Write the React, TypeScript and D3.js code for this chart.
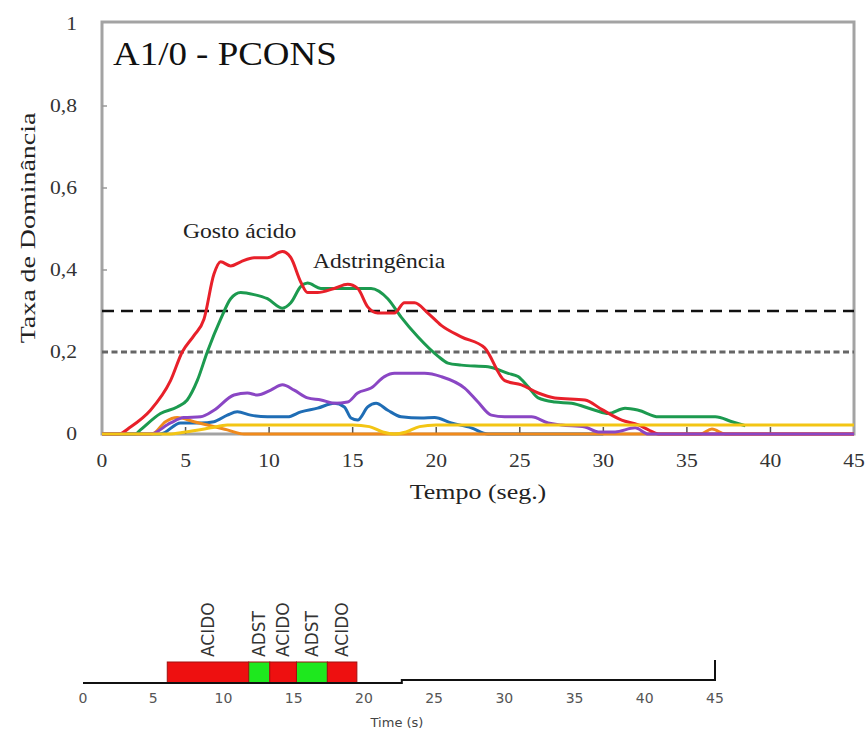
import * as d3 from 'd3'

// time (s) / dominance rate
const acidoT = [0, 1, 1.7, 2.9, 4.1, 4.8, 5.5, 6.1, 6.7, 7.1, 7.7, 8.3, 9.1, 9.9, 10.8, 11.3, 11.9, 12.3, 12.9, 13.9, 14.7, 15.3, 15.9, 16.5, 17.5, 18.1, 18.7, 19.5, 20.3, 21.5, 22.9, 24.1, 25.1, 26.1, 27.1, 28.9, 29.9, 31.1, 32.1, 32.7, 33.3, 45]
const acidoV = [0, 0, 0.017, 0.058, 0.13, 0.2, 0.24, 0.28, 0.39, 0.42, 0.41, 0.42, 0.43, 0.43, 0.445, 0.43, 0.37, 0.345, 0.345, 0.355, 0.365, 0.355, 0.31, 0.295, 0.295, 0.32, 0.32, 0.295, 0.265, 0.237, 0.21, 0.13, 0.12, 0.1, 0.088, 0.083, 0.06, 0.034, 0.022, 0.01, 0, 0]

const adstT = [0, 2, 2.3, 3.5, 4.5, 5.1, 5.7, 6.3, 7.1, 7.7, 8.3, 9.1, 9.9, 10.8, 11.3, 11.9, 12.3, 13.1, 14.7, 16.1, 17.1, 17.9, 18.9, 20.1, 20.7, 21.5, 23.1, 24.3, 24.9, 25.5, 26.1, 27.1, 28.1, 29.5, 30.3, 31.3, 32.1, 33.3, 35.1, 36.7, 37.7, 38.5]
const adstV = [0, 0, 0.01, 0.05, 0.066, 0.083, 0.13, 0.2, 0.28, 0.33, 0.345, 0.34, 0.33, 0.307, 0.32, 0.36, 0.368, 0.355, 0.355, 0.355, 0.33, 0.285, 0.237, 0.19, 0.173, 0.168, 0.164, 0.148, 0.14, 0.115, 0.088, 0.078, 0.075, 0.058, 0.05, 0.063, 0.058, 0.042, 0.042, 0.042, 0.03, 0.02]

const purpleT = [0, 2.9, 4.1, 4.9, 5.9, 6.7, 7.9, 8.7, 9.3, 10.1, 10.8, 11.5, 12.3, 13.1, 13.9, 14.7, 15.3, 16.1, 16.9, 17.5, 19.3, 20.3, 21.7, 22.5, 23.3, 24.1, 25.7, 26.7, 27.5, 28.9, 29.7, 30.7, 31.9, 32.7, 45]
const purpleV = [0, 0, 0.027, 0.04, 0.042, 0.058, 0.095, 0.1, 0.095, 0.107, 0.12, 0.107, 0.088, 0.083, 0.075, 0.078, 0.1, 0.112, 0.14, 0.148, 0.148, 0.14, 0.112, 0.078, 0.046, 0.042, 0.042, 0.027, 0.022, 0.017, 0.005, 0.005, 0.015, 0, 0]

const blueT = [0, 3.5, 4.7, 5.9, 6.7, 7.5, 8.1, 8.9, 9.9, 11.1, 11.9, 12.9, 13.9, 14.5, 14.9, 15.3, 15.9, 16.4, 17.1, 17.9, 19.1, 19.9, 20.9, 22.1, 23.1, 30]
const blueV = [0, 0, 0.027, 0.027, 0.03, 0.046, 0.054, 0.046, 0.042, 0.042, 0.054, 0.063, 0.075, 0.066, 0.039, 0.034, 0.066, 0.075, 0.058, 0.042, 0.039, 0.04, 0.027, 0.015, 0, 0]

const yellowT = [0, 4, 5, 6.5, 7.5, 15, 16, 16.8, 17.5, 18.2, 19, 20, 45]
const yellowV = [0, 0, 0.005, 0.015, 0.022, 0.022, 0.018, 0.005, 0, 0.005, 0.018, 0.022, 0.022]

const orangeT = [0, 3, 3.8, 4.5, 5.5, 6.5, 7.5, 8.5, 35.8, 36.5, 37.3, 45]
const orangeV = [0, 0, 0.03, 0.04, 0.03, 0.02, 0.01, 0, 0, 0.012, 0, 0]

// reference lines
const thresholdHigh = 0.3
const thresholdLow = 0.2

const yTicks = [0, 0.2, 0.4, 0.6, 0.8, 1]
const xTicks = [0, 5, 10, 15, 20, 25, 30, 35, 40, 45]

// bottom band: dominant attribute per period
const bandLabels = ['ACIDO', 'ADST', 'ACIDO', 'ADST', 'ACIDO']
const bandStart = [6.0, 11.8, 13.3, 15.2, 17.4]
const bandEnd = [11.8, 13.3, 15.2, 17.4, 19.5]

const serif = '"Liberation Serif", "Times New Roman", serif'
const sans = '"DejaVu Sans", "Liberation Sans", sans-serif'

const zip = (t: number[], v: number[]) => t.map((x, i) => [x, v[i]] as [number, number])

export default function App() {
  const x = d3.scaleLinear().domain([0, 45]).range([102, 854])
  const y = d3.scaleLinear().domain([0, 1]).range([434, 24])
  const xb = d3.scaleLinear().domain([0, 45]).range([83, 715])

  const line = d3.line<[number, number]>()
    .x(d => x(d[0]))
    .y(d => y(d[1]))
    .curve(d3.curveMonotoneX)

  const series = [
    { data: zip(blueT, blueV), color: '#1f6db5' },
    { data: zip(orangeT, orangeV), color: '#f08a1c' },
    { data: zip(adstT, adstV), color: '#1c9a4f' },
    { data: zip(acidoT, acidoV), color: '#e8202a' },
    { data: zip(purpleT, purpleV), color: '#8a46c4' },
    { data: zip(yellowT, yellowV), color: '#f3c514' },
  ]

  const st = (tx: number, ty: number, sx = 1.18) => `translate(${tx},${ty}) scale(${sx},1)`

  return (
    <svg width={867} height={731} style={{ position: 'absolute', left: 0, top: 0, background: '#fff' }}>
      {/* frame */}
      <rect x={x(0)} y={y(1) - 2} width={x(45) - x(0)} height={y(0) - y(1) + 2} fill="none" stroke="#a3a3a3" strokeWidth={3} />

      {/* ticks */}
      {yTicks.slice(1, -1).map(t => (
        <line key={'yt' + t} x1={x(0)} x2={x(0) + 5} y1={y(t)} y2={y(t)} stroke="#999" strokeWidth={1.5} />
      ))}
      {xTicks.slice(1, -1).map(t => (
        <line key={'xt' + t} x1={x(t)} x2={x(t)} y1={y(0)} y2={y(0) - 7} stroke="#555" strokeWidth={1.5} />
      ))}

      {/* threshold lines */}
      <line x1={x(0)} x2={x(45)} y1={y(thresholdHigh)} y2={y(thresholdHigh)} stroke="#111" strokeWidth={2.5} strokeDasharray="12,7" />
      <line x1={x(0)} x2={x(45)} y1={y(thresholdLow)} y2={y(thresholdLow)} stroke="#666" strokeWidth={3} strokeDasharray="6,3.5" />

      {/* curves */}
      {series.map((s, i) => (
        <path key={i} d={line(s.data) || ''} fill="none" stroke={s.color} strokeWidth={3} strokeLinejoin="round" />
      ))}

      {/* tick labels */}
      {yTicks.map(t => (
        <text key={'yl' + t} transform={st(77, y(t) + 6, 1.2)} textAnchor="end" fontFamily={serif} fontSize={18} fill="#333">
          {t === 0 ? '0' : t === 1 ? '1' : d3.format('.1f')(t).replace('.', ',')}
        </text>
      ))}
      {xTicks.map(t => (
        <text key={'xl' + t} transform={st(x(t), 467, 1.2)} textAnchor="middle" fontFamily={serif} fontSize={18} fill="#333">{t}</text>
      ))}

      {/* axis titles */}
      <text transform={st(478, 499)} textAnchor="middle" fontFamily={serif} fontSize={22} fill="#222">Tempo (seg.)</text>
      <text transform={`translate(35,228) rotate(-90) scale(1.27,1)`} textAnchor="middle" fontFamily={serif} fontSize={22} fill="#222">Taxa de Dominância</text>

      {/* annotations */}
      <text transform={st(113, 65, 1.12)} fontFamily={serif} fontSize={33} fill="#111">A1/0 - PCONS</text>
      <text transform={st(183, 238)} fontFamily={serif} fontSize={20} fill="#222">Gosto ácido</text>
      <text transform={st(313, 268)} fontFamily={serif} fontSize={20} fill="#222">Adstringência</text>

      {/* bottom band chart */}
      {bandLabels.map((lab, i) => (
        <g key={'b' + i}>
          <rect x={xb(bandStart[i])} y={662} width={xb(bandEnd[i]) - xb(bandStart[i])} height={21}
            fill={lab === 'ACIDO' ? '#ee1010' : '#1ee81e'} stroke="#a01010" strokeWidth={1} />
          <text transform={`translate(${(xb(bandStart[i]) + xb(bandEnd[i])) / 2 + 6},657) rotate(-90)`}
            fontFamily={sans} fontSize={17} fill="#333">{lab}</text>
        </g>
      ))}
      <path d={`M${xb(0)},683 H${xb(22.7)} V680 H${xb(45)} V660`} fill="none" stroke="#111" strokeWidth={2} />
      {xTicks.map(t => (
        <text key={'bl' + t} x={xb(t)} y={703} textAnchor="middle" fontFamily={sans} fontSize={14} fill="#555">{t}</text>
      ))}
      <text x={397} y={727} textAnchor="middle" fontFamily={sans} fontSize={13} fill="#444">Time (s)</text>
    </svg>
  )
}
